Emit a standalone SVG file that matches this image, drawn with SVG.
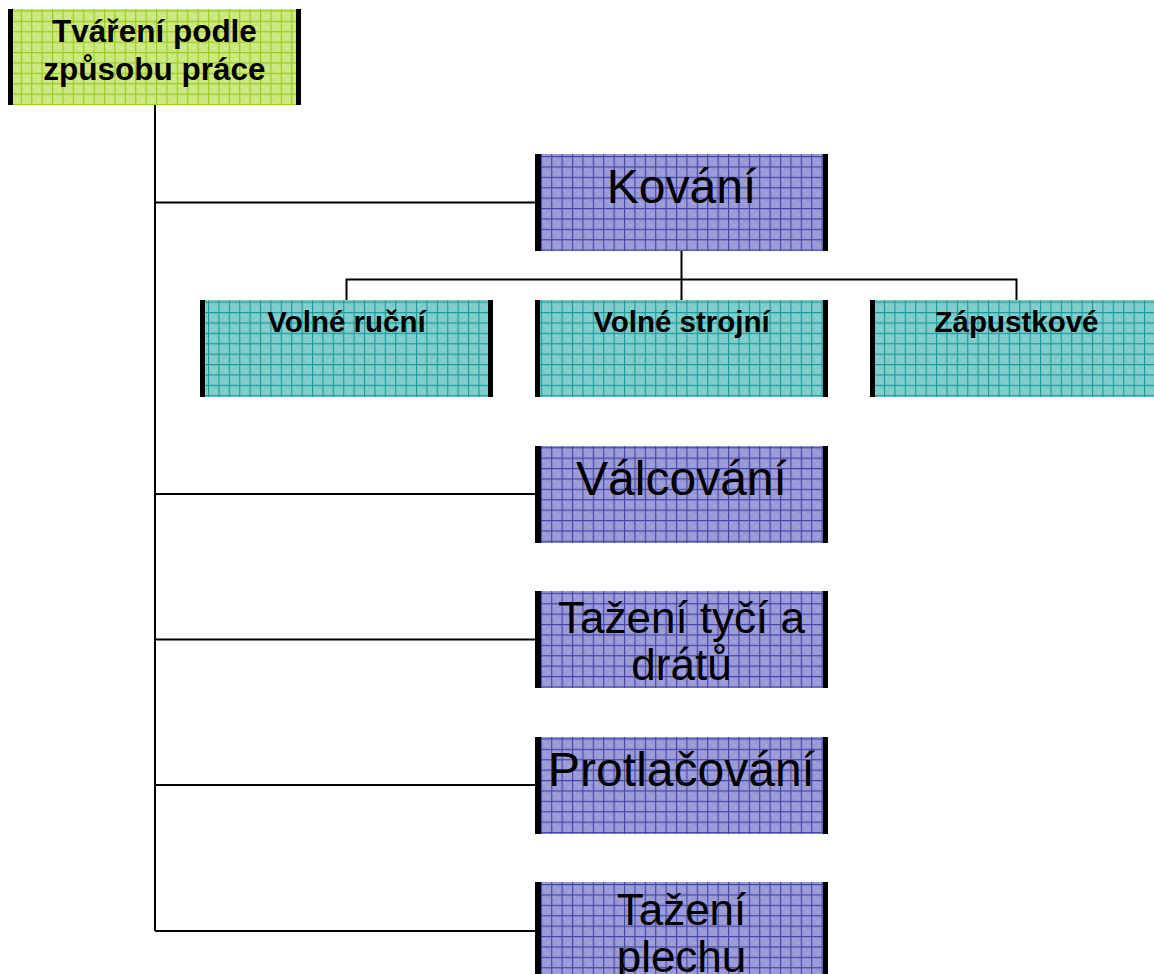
<svg xmlns="http://www.w3.org/2000/svg" width="1154" height="974" viewBox="0 0 1154 974">
<style>
.bar{fill:#000}
.ln{stroke:#000;stroke-width:2;fill:none}
.big{font-family:"Liberation Sans",Arial,sans-serif;font-size:48px;fill:#000;text-anchor:middle}
.mid{font-family:"Liberation Sans",Arial,sans-serif;font-size:44px;fill:#000;text-anchor:middle}
.bold{font-family:"Liberation Sans",Arial,sans-serif;font-weight:bold;fill:#000;text-anchor:middle}
</style>
<defs>
<pattern id="pg" width="10.4" height="10.4" patternUnits="userSpaceOnUse">
<rect width="10.4" height="10.4" fill="#cbe77f"/>
<rect x="2" y="2" width="2" height="2" fill="#d6ee99"/><rect x="6" y="6" width="2" height="2" fill="#d6ee99"/>
<path d="M0 0.5H10.4M0.5 0V10.4" stroke="#9acc1a" stroke-width="1.2"/>
</pattern>
<pattern id="pp" width="10.4" height="10.4" patternUnits="userSpaceOnUse">
<rect width="10.4" height="10.4" fill="#9a9ad6"/>
<rect x="2" y="2" width="2" height="2" fill="#a8a8dc"/><rect x="6" y="6" width="2" height="2" fill="#a8a8dc"/>
<path d="M0 0.5H10.4M0.5 0V10.4" stroke="#4444aa" stroke-width="1.2"/>
</pattern>
<pattern id="pt" width="10.4" height="10.4" patternUnits="userSpaceOnUse">
<rect width="10.4" height="10.4" fill="#80cccc"/>
<rect x="2" y="2" width="2" height="2" fill="#90d4d4"/><rect x="6" y="6" width="2" height="2" fill="#90d4d4"/>
<path d="M0 0.5H10.4M0.5 0V10.4" stroke="#1a9c9c" stroke-width="1.2"/>
</pattern>
</defs>

<g id="connectors">
<path class="ln" d="M155 105V931"/>
<path class="ln" d="M155 202.5H536"/>
<path class="ln" d="M155 494H536"/>
<path class="ln" d="M155 639.5H536"/>
<path class="ln" d="M155 785H536"/>
<path class="ln" d="M155 931H536"/>
<path class="ln" d="M681.5 251V279.5M346.5 300V279.5H1016.5V300M681.5 279.5V300"/>
</g>

<g id="root">
<rect x="8" y="9" width="293" height="96" fill="url(#pg)"/>
<rect class="bar" x="8" y="9" width="5" height="96"/>
<rect class="bar" x="296" y="9" width="5" height="96"/>
<text class="bold" x="154.5" y="42" font-size="31.5">Tváření podle</text>
<text class="bold" x="154.5" y="80" font-size="31.5">způsobu práce</text>
</g>

<g id="kovani">
<rect x="535" y="154" width="293" height="97" fill="url(#pp)"/>
<rect class="bar" x="535" y="154" width="6" height="97"/>
<rect class="bar" x="823" y="154" width="5" height="97"/>
<text class="big" x="681.5" y="203">Kování</text>
</g>

<g id="volne-rucni">
<rect x="200" y="300" width="293" height="97" fill="url(#pt)"/>
<rect class="bar" x="200" y="300" width="5" height="97"/>
<rect class="bar" x="488" y="300" width="5" height="97"/>
<text class="bold" x="346.5" y="332" font-size="29.5">Volné ruční</text>
</g>

<g id="volne-strojni">
<rect x="535" y="300" width="293" height="97" fill="url(#pt)"/>
<rect class="bar" x="535" y="300" width="5" height="97"/>
<rect class="bar" x="823" y="300" width="5" height="97"/>
<text class="bold" x="681.5" y="332" font-size="29.5">Volné strojní</text>
</g>

<g id="zapustkove">
<rect x="870" y="300" width="293" height="97" fill="url(#pt)"/>
<rect class="bar" x="870" y="300" width="5" height="97"/>
<rect class="bar" x="1158" y="300" width="5" height="97"/>
<text class="bold" x="1016.5" y="332" font-size="29.5">Zápustkové</text>
</g>

<g id="valcovani">
<rect x="535" y="446" width="293" height="97" fill="url(#pp)"/>
<rect class="bar" x="535" y="446" width="6" height="97"/>
<rect class="bar" x="823" y="446" width="5" height="97"/>
<text class="big" x="681.5" y="495">Válcování</text>
</g>

<g id="tazeni-tyci">
<rect x="535" y="591" width="293" height="97" fill="url(#pp)"/>
<rect class="bar" x="535" y="591" width="6" height="97"/>
<rect class="bar" x="823" y="591" width="5" height="97"/>
<text class="mid" x="681.5" y="633">Tažení tyčí a</text>
<text class="mid" x="681.5" y="680">drátů</text>
</g>

<g id="protlacovani">
<rect x="535" y="737" width="293" height="97" fill="url(#pp)"/>
<rect class="bar" x="535" y="737" width="6" height="97"/>
<rect class="bar" x="823" y="737" width="5" height="97"/>
<text class="big" x="681.5" y="786">Protlačování</text>
</g>

<g id="tazeni-plechu">
<rect x="535" y="882" width="293" height="97" fill="url(#pp)"/>
<rect class="bar" x="535" y="882" width="6" height="97"/>
<rect class="bar" x="823" y="882" width="5" height="97"/>
<text class="mid" x="681.5" y="925">Tažení</text>
<text class="mid" x="681.5" y="972">plechu</text>
</g>
</svg>
